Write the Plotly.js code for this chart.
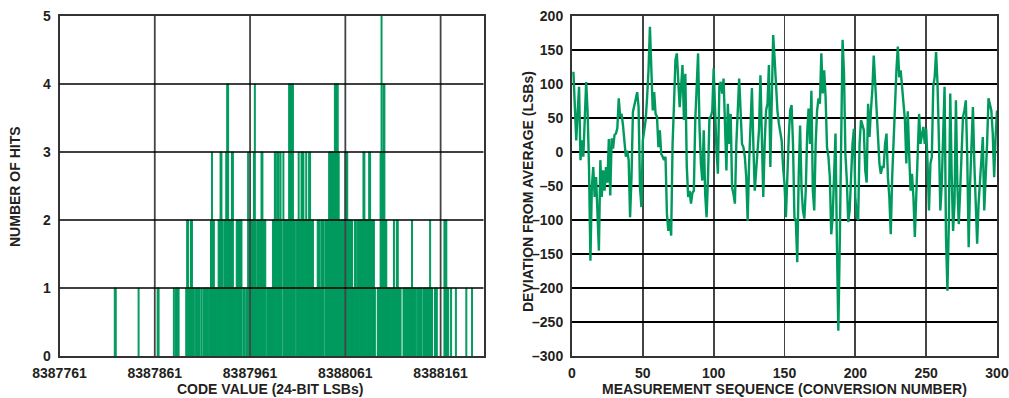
<!DOCTYPE html>
<html>
<head>
<meta charset="utf-8">
<script src="https://cdn.plot.ly/plotly-3.0.1.min.js"></script>
<style>html,body{margin:0;padding:0;background:#fff;}#chart{width:1009px;height:398px;}</style>
</head>
<body>
<div id="chart"></div>
<script>
// ---------- Left panel: histogram of code values ----------
const codeValues = [
  8387819,8387820,8387844,8387864,8387865,8387881,8387883,8387884,8387885,8387886,
  8387894,8387895,8387896,8387897,8387898,8387899,
  8387900,8387901,8387902,8387904,8387905,8387906,8387907,8387908,8387910,8387912,
  8387913,8387914,8387915,8387916,8387917,
  8387919,8387920,8387921,8387922,8387923,8387924,8387925,8387926,8387927,8387928,
  8387929,8387930,8387931,8387932,8387933,8387934,8387935,8387936,8387937,8387938,
  8387939,8387940,8387941,8387942,8387943,8387944,8387945,8387946,8387947,8387948,
  8387949,8387950,8387951,8387952,
  8387954,8387955,8387957,8387958,8387959,8387960,8387961,8387962,8387963,8387964,
  8387965,8387966,8387967,8387968,8387969,8387970,8387971,8387972,8387973,8387974,
  8387975,8387976,8387977,
  8387979,8387980,8387981,8387982,8387983,8387984,8387985,8387986,8387987,8387988,
  8387989,8387990,8387991,8387992,8387993,8387994,
  8387996,8387997,8387998,8387999,8388000,8388001,8388002,8388003,8388004,8388005,
  8388006,8388007,8388008,
  8388010,8388011,8388012,8388013,8388014,8388015,8388016,8388017,8388018,8388019,
  8388020,8388021,8388022,8388023,8388024,8388025,8388026,8388027,8388028,8388029,
  8388030,8388031,8388032,8388033,8388034,8388035,8388036,8388037,8388038,
  8388040,8388041,8388042,8388043,8388044,8388045,8388046,8388047,8388048,8388049,
  8388050,8388051,8388052,8388053,8388054,8388055,8388056,8388057,8388058,8388059,
  8388060,8388061,8388062,8388063,8388064,8388065,8388066,8388067,8388068,8388069,
  8388070,8388071,8388072,8388073,8388074,8388075,8388076,8388077,8388078,8388079,
  8388080,8388081,8388082,8388083,8388084,8388085,8388086,8388087,8388088,8388089,
  8388090,8388091,8388092,
  8388095,8388096,8388097,8388098,8388099,8388100,8388101,8388102,8388103,8388104,
  8388105,8388106,8388107,8388108,8388109,
  8388111,8388112,8388113,8388114,8388115,8388116,8388117,8388118,8388119,
  8388122,8388123,8388124,8388125,8388126,8388127,8388128,8388129,8388130,8388131,
  8388132,8388133,8388134,8388135,
  8388137,8388138,8388139,8388140,8388141,
  8388143,8388144,8388145,8388146,8388147,8388148,8388149,8388150,8388151,8388152,
  8388155,8388156,8388157,
  8388165,8388166,8388167,8388168,8388169,8388172,8388177,8388188,8388194
];
const hitCounts = [
  1,1,1,1,1,1,1,1,1,1,
  1,2,2,1,1,2,
  2,1,1,1,1,1,1,1,1,1,
  1,1,1,1,1,
  1,2,3,2,2,1,1,1,1,2,
  2,3,3,2,1,2,2,3,4,4,
  2,2,2,3,3,1,1,1,2,2,
  2,2,2,2,
  1,1,1,1,3,2,1,2,2,2,
  3,4,2,1,2,2,2,2,3,3,
  2,2,2,
  1,1,1,1,1,1,2,2,3,3,
  2,3,3,2,3,2,
  3,2,2,2,2,2,4,4,4,4,
  4,2,2,
  2,2,3,2,2,3,3,3,2,2,
  3,2,2,3,3,2,2,2,1,1,
  1,1,2,2,2,1,2,2,2,
  2,2,2,2,3,3,3,3,3,3,
  4,4,4,4,3,2,2,2,2,2,
  2,3,3,3,2,2,2,2,2,1,
  1,2,2,1,2,2,2,2,2,2,
  3,3,2,2,2,2,3,3,2,2,
  2,2,1,
  1,1,1,3,5,3,4,4,2,2,
  1,1,1,1,1,
  1,2,1,1,2,2,1,1,1,
  1,1,1,1,1,1,1,1,1,2,
  1,1,1,1,
  1,1,1,1,1,
  1,1,1,1,1,1,1,2,1,1,
  1,1,1,
  2,2,2,1,1,1,1,1,1
];
const codeTickVals = [8387761, 8387861, 8387961, 8388061, 8388161];
const codeRange = [8387761, 8388206];
const hitsTickVals = [0, 1, 2, 3, 4, 5];

// ---------- Right panel: deviation vs. measurement sequence ----------
const deviationLSB = [
  118, 70, 17, 60, 96, -12, 17, -7, 40, 103,
  60, -22, -160, -52, -22, -66, -37, -100, -145, -12,
  -66, -27, -57, -22, -45, 19, -64, 20, 5, 25,
  27, 35, 79, 52, 56, 39, 20, -7, 2, -12,
  -96, -37, 59, 71, 78, 88, 66, -52, -81, 17,
  30, 47, 80, 120, 184, 125, 61, 88, 56, 52,
  7, 32, -3, -7, -12, -7, -91, -116, -101, -123,
  12, 70, 135, 145, 110, 66, 96, 128, 47, 115,
  -20, -66, -57, -76, -60, -57, 46, 105, 145, 37,
  -17, -42, 32, -62, -96, -37, 50, 52, 60, 123,
  47, 2, -32, 96, 103, 86, 108, 47, -27, 71,
  12, 56, -52, -62, -76, 12, 66, 108, 61, 12,
  7, -7, -37, -101, -17, 27, 94, 12, -57, -27,
  12, 32, 113, 37, -66, 12, 61, 71, 128, -22,
  91, 172, 138, 86, 61, 42, 32, 17, -22, -47,
  -96, -17, 22, 61, 69, 12, -96, -101, -162, -37,
  39, -52, -86, -98, -57, 27, 64, 12, 90, -57,
  -86, 12, 61, 79, 71, 145, 86, 120, 81, 7,
  -7, -37, -121, -96, -37, 27, -135, -263, -135, 40,
  165, 115, -3, -42, -103, -86, -27, 12, 34, -66,
  -96, -100, 12, 47, 40, 32, -27, -45, 71, 22,
  61, 91, 142, 101, 52, 12, -17, -32, -22, -22,
  12, 27, -37, -66, -121, -37, 22, 61, 120, 155,
  110, 120, 91, 61, 47, -17, 60, -3, -57, -32,
  -66, -125, -66, -17, 56, 12, 22, 37, 12, 34,
  -17, -86, -17, -7, 96, 110, 147, 101, 17, -86,
  -47, 12, 96, -125, -204, -106, 86, -32, -116, -76,
  76, -47, -106, -57, 12, 52, 61, 76, -7, -140,
  -47, 17, 66, -17, -86, -135, -76, -47, -7, 22,
  -86, -47, 12, 79, 71, 61, 27, -37, 22, 61
];
const seqTickVals = [0, 50, 100, 150, 200, 250, 300];
const devTickVals = [-300, -250, -200, -150, -100, -50, 0, 50, 100, 150, 200];
const devTickText = ['\u2013300', '\u2013250', '\u2013200', '\u2013150', '\u2013100', '\u201350', '0', '50', '100', '150', '200'];

const GREEN = '#009A5E';
const FONT = {family: 'Liberation Sans, Arial, Helvetica, sans-serif', size: 14, color: '#231F20', weight: 'bold'};
const TITLEFONT = {family: 'Liberation Sans, Arial, Helvetica, sans-serif', size: 14, color: '#231F20', weight: 'bold'};

const traces = [
  {
    type: 'bar', x: codeValues, y: hitCounts, xaxis: 'x', yaxis: 'y',
    width: 1,
    marker: {color: GREEN, line: {color: GREEN, width: 1}},
    hoverinfo: 'x+y', showlegend: false
  },
  {
    type: 'scatter', mode: 'lines', y: deviationLSB, x0: 1, dx: 1, xaxis: 'x2', yaxis: 'y2',
    line: {color: GREEN, width: 2.4}, showlegend: false
  }
];

// grid lines of the left panel drawn above the bars (as in the reference)
const shapes = [];
codeTickVals.slice(1).forEach(v => shapes.push({
  type: 'line', layer: 'above', xref: 'x', yref: 'y domain', x0: v, x1: v, y0: 0, y1: 1,
  line: {color: '#444', width: 1.8}
}));
hitsTickVals.slice(1, -1).forEach(v => shapes.push({
  type: 'line', layer: 'above', xref: 'x domain', yref: 'y', x0: 0, x1: 1, y0: v, y1: v,
  line: {color: '#000', width: 1.5}
}));

const axisBase = {
  showline: true, mirror: true, linecolor: '#333', linewidth: 2,
  ticks: '', tickfont: FONT, zeroline: false, fixedrange: true
};

const layout = {
  width: 1009, height: 398,
  margin: {l: 0, r: 0, t: 0, b: 0},
  paper_bgcolor: '#fff', plot_bgcolor: '#fff',
  showlegend: false,
  xaxis: Object.assign({}, axisBase, {
    domain: [59.5/1009, 483.5/1009], anchor: 'y',
    range: codeRange, tickvals: codeTickVals, ticktext: codeTickVals.map(String),
    showgrid: false, ticklabelstandoff: 3
  }),
  yaxis: Object.assign({}, axisBase, {
    domain: [42/398, 382/398], anchor: 'x',
    range: [0, 5], tickvals: hitsTickVals,
    showgrid: false, ticklabelstandoff: 4
  }),
  xaxis2: Object.assign({}, axisBase, {
    domain: [572/1009, 997/1009], anchor: 'y2',
    range: [0, 300], tickvals: seqTickVals,
    showgrid: true, gridcolor: '#444', gridwidth: 1.8, ticklabelstandoff: 3
  }),
  yaxis2: Object.assign({}, axisBase, {
    domain: [42/398, 382/398], anchor: 'x2',
    range: [-300, 200], tickvals: devTickVals, ticktext: devTickText,
    showgrid: true, gridcolor: '#000', gridwidth: 1.5, ticklabelstandoff: 4
  }),
  shapes: shapes,
  annotations: [
    {text: 'CODE VALUE (24-BIT LSBs)', xref: 'paper', yref: 'paper', x: 270/1009, y: 9/398,
     xanchor: 'center', yanchor: 'middle', showarrow: false, font: TITLEFONT},
    {text: 'MEASUREMENT SEQUENCE (CONVERSION NUMBER)', xref: 'paper', yref: 'paper', x: 784/1009, y: 9/398,
     xanchor: 'center', yanchor: 'middle', showarrow: false, font: TITLEFONT},
    {text: 'NUMBER OF HITS', xref: 'paper', yref: 'paper', x: 15/1009, y: (398-187)/398,
     xanchor: 'center', yanchor: 'middle', textangle: -90, showarrow: false, font: TITLEFONT},
    {text: 'DEVIATION FROM AVERAGE (LSBs)', xref: 'paper', yref: 'paper', x: 528/1009, y: (398-192)/398,
     xanchor: 'center', yanchor: 'middle', textangle: -90, showarrow: false, font: TITLEFONT}
  ]
};

Plotly.newPlot('chart', traces, layout, {displayModeBar: false, staticPlot: true});
</script>
</body>
</html>
